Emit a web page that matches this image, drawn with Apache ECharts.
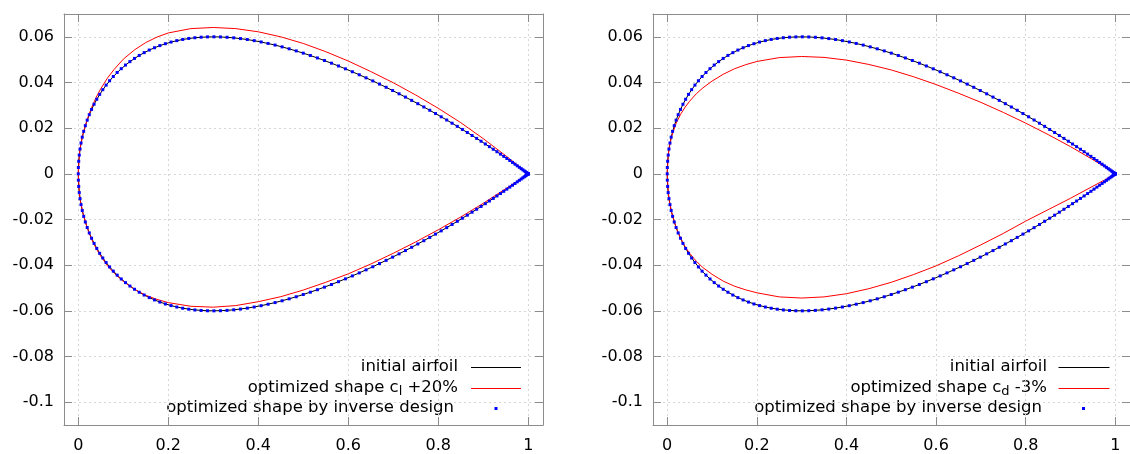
<!DOCTYPE html>
<html>
<head>
<meta charset="utf-8">
<script src="https://cdn.jsdelivr.net/npm/echarts/dist/echarts.min.js"></script>
<style>
html,body{margin:0;padding:0;background:#fff;}
#chart{width:1130px;height:454px;}
</style>
</head>
<body>
<div id="chart"></div>
<script>
// ---- tick labels ----
const xTicks = [0, 0.2, 0.4, 0.6, 0.8, 1];
const xTickLabels = ['0', '0.2', '0.4', '0.6', '0.8', '1'];
const yTicks = [-0.1, -0.08, -0.06, -0.04, -0.02, 0, 0.02, 0.04, 0.06];
const yTickLabels = ['-0.1', '-0.08', '-0.06', '-0.04', '-0.02', '0', '0.02', '0.04', '0.06'];

// ---- legend texts ----
const legendLeft = ['initial airfoil', 'optimized shape c{sub|l} +20%', 'optimized shape by inverse design'];
const legendRight = ['initial airfoil', 'optimized shape c{sub|d} -3%', 'optimized shape by inverse design'];

// ---- initial airfoil (line) ----
const initX = [0, 0.00099, 0.00394, 0.00886, 0.01571, 0.02447, 0.03511, 0.04759, 0.06185, 0.07784, 0.09549, 0.11474, 0.13552, 0.15773, 0.18129, 0.20611, 0.23209, 0.25912, 0.28711, 0.31594, 0.34549, 0.37566, 0.40631, 0.43733, 0.46861, 0.5, 0.5314, 0.56267, 0.59369, 0.62435, 0.65451, 0.68406, 0.71289, 0.74088, 0.76791, 0.79389, 0.81871, 0.84227, 0.86448, 0.88526, 0.90451, 0.92216, 0.93815, 0.95241, 0.96489, 0.97553, 0.98429, 0.99114, 0.99606, 0.99901, 1];
const initUpper = [0, 0.00552, 0.01088, 0.01608, 0.02109, 0.02589, 0.03047, 0.0348, 0.03886, 0.04262, 0.04605, 0.04914, 0.05186, 0.05421, 0.05616, 0.05771, 0.05886, 0.05961, 0.05997, 0.05995, 0.05956, 0.05882, 0.05775, 0.05639, 0.05475, 0.05286, 0.05075, 0.04846, 0.04599, 0.04339, 0.04069, 0.0379, 0.03505, 0.03217, 0.02928, 0.0264, 0.02357, 0.0208, 0.01811, 0.01552, 0.01307, 0.01077, 0.00864, 0.00671, 0.00499, 0.0035, 0.00226, 0.00128, 0.00057, 0.00014, 0];
const initLower = [0, -0.00552, -0.01088, -0.01608, -0.02109, -0.02589, -0.03047, -0.0348, -0.03886, -0.04262, -0.04605, -0.04914, -0.05186, -0.05421, -0.05616, -0.05771, -0.05886, -0.05961, -0.05997, -0.05995, -0.05956, -0.05882, -0.05775, -0.05639, -0.05475, -0.05286, -0.05075, -0.04846, -0.04599, -0.04339, -0.04069, -0.0379, -0.03505, -0.03217, -0.02928, -0.0264, -0.02357, -0.0208, -0.01811, -0.01552, -0.01307, -0.01077, -0.00864, -0.00671, -0.00499, -0.0035, -0.00226, -0.00128, -0.00057, -0.00014, 0];

// ---- optimized shape by inverse design (points) ----
const invX = [0, 0.00025, 0.00099, 0.00222, 0.00394, 0.00616, 0.00886, 0.01204, 0.01571, 0.01985, 0.02447, 0.02956, 0.03511, 0.04112, 0.04759, 0.0545, 0.06185, 0.06963, 0.07784, 0.08646, 0.09549, 0.10492, 0.11474, 0.12494, 0.13552, 0.14645, 0.15773, 0.16934, 0.18129, 0.19355, 0.20611, 0.21896, 0.23209, 0.24548, 0.25912, 0.27301, 0.28711, 0.30143, 0.31594, 0.33063, 0.34549, 0.3605, 0.37566, 0.39093, 0.40631, 0.42178, 0.43733, 0.45295, 0.46861, 0.4843, 0.5, 0.51571, 0.5314, 0.54705, 0.56267, 0.57822, 0.59369, 0.60907, 0.62435, 0.6395, 0.65451, 0.66937, 0.68406, 0.69857, 0.71289, 0.727, 0.74088, 0.75452, 0.76791, 0.78104, 0.79389, 0.80645, 0.81871, 0.83066, 0.84227, 0.85355, 0.86448, 0.87506, 0.88526, 0.89508, 0.90451, 0.91354, 0.92216, 0.93037, 0.93815, 0.9455, 0.95241, 0.95888, 0.96489, 0.97044, 0.97553, 0.98015, 0.98429, 0.98796, 0.99114, 0.99384, 0.99606, 0.99778, 0.99901, 0.99975, 1];
const invUpper = [0, 0.00278, 0.00552, 0.00822, 0.01088, 0.0135, 0.01608, 0.01861, 0.02109, 0.02352, 0.02589, 0.02821, 0.03047, 0.03267, 0.0348, 0.03687, 0.03886, 0.04078, 0.04262, 0.04437, 0.04605, 0.04764, 0.04914, 0.05055, 0.05186, 0.05308, 0.05421, 0.05523, 0.05616, 0.05699, 0.05771, 0.05834, 0.05886, 0.05929, 0.05961, 0.05984, 0.05997, 0.06001, 0.05995, 0.0598, 0.05956, 0.05923, 0.05882, 0.05833, 0.05775, 0.05711, 0.05639, 0.0556, 0.05475, 0.05384, 0.05286, 0.05183, 0.05075, 0.04963, 0.04846, 0.04724, 0.04599, 0.04471, 0.04339, 0.04205, 0.04069, 0.0393, 0.0379, 0.03648, 0.03505, 0.03361, 0.03217, 0.03072, 0.02928, 0.02784, 0.0264, 0.02498, 0.02357, 0.02217, 0.0208, 0.01944, 0.01811, 0.0168, 0.01552, 0.01428, 0.01307, 0.0119, 0.01077, 0.00968, 0.00864, 0.00765, 0.00671, 0.00582, 0.00499, 0.00422, 0.0035, 0.00285, 0.00226, 0.00174, 0.00128, 0.00089, 0.00057, 0.00032, 0.00014, 0.00004, 0];
const invLower = [0, -0.00278, -0.00552, -0.00822, -0.01088, -0.0135, -0.01608, -0.01861, -0.02109, -0.02352, -0.02589, -0.02821, -0.03047, -0.03267, -0.0348, -0.03687, -0.03886, -0.04078, -0.04262, -0.04437, -0.04605, -0.04764, -0.04914, -0.05055, -0.05186, -0.05308, -0.05421, -0.05523, -0.05616, -0.05699, -0.05771, -0.05834, -0.05886, -0.05929, -0.05961, -0.05984, -0.05997, -0.06001, -0.05995, -0.0598, -0.05956, -0.05923, -0.05882, -0.05833, -0.05775, -0.05711, -0.05639, -0.0556, -0.05475, -0.05384, -0.05286, -0.05183, -0.05075, -0.04963, -0.04846, -0.04724, -0.04599, -0.04471, -0.04339, -0.04205, -0.04069, -0.0393, -0.0379, -0.03648, -0.03505, -0.03361, -0.03217, -0.03072, -0.02928, -0.02784, -0.0264, -0.02498, -0.02357, -0.02217, -0.0208, -0.01944, -0.01811, -0.0168, -0.01552, -0.01428, -0.01307, -0.0119, -0.01077, -0.00968, -0.00864, -0.00765, -0.00671, -0.00582, -0.00499, -0.00422, -0.0035, -0.00285, -0.00226, -0.00174, -0.00128, -0.00089, -0.00057, -0.00032, -0.00014, -0.00004, 0];

// ---- optimized shapes (red lines) ----
const redX = [0, 0.0025, 0.005, 0.01, 0.02, 0.03, 0.04, 0.05, 0.065, 0.08, 0.1, 0.125, 0.15, 0.175, 0.2, 0.25, 0.3, 0.35, 0.4, 0.45, 0.5, 0.55, 0.6, 0.65, 0.7, 0.75, 0.8, 0.85, 0.9, 0.95, 0.975, 1];
const clUpper = [0, 0.0087, 0.0122, 0.0171, 0.0239, 0.0292, 0.0336, 0.0373, 0.042, 0.0458, 0.0502, 0.0543, 0.0575, 0.0599, 0.0617, 0.0636, 0.0641, 0.0636, 0.0622, 0.06, 0.0571, 0.0535, 0.0494, 0.0448, 0.0399, 0.0345, 0.0287, 0.0224, 0.0154, 0.0079, 0.004, 0];
const clLower = [0, -0.0087, -0.0122, -0.017, -0.0238, -0.0288, -0.0328, -0.0361, -0.0403, -0.0436, -0.0471, -0.0506, -0.0532, -0.055, -0.0564, -0.058, -0.0584, -0.0577, -0.056, -0.0538, -0.0509, -0.0475, -0.0438, -0.0395, -0.0348, -0.0298, -0.0245, -0.0189, -0.0129, -0.0065, -0.0033, 0];
const cdUpper = [0, 0.0087, 0.0121, 0.0165, 0.0222, 0.0261, 0.0292, 0.0318, 0.0351, 0.0377, 0.0406, 0.0436, 0.046, 0.0478, 0.0492, 0.0509, 0.0514, 0.051, 0.0498, 0.0479, 0.0455, 0.0425, 0.0391, 0.0353, 0.0313, 0.0269, 0.0222, 0.0172, 0.0119, 0.0062, 0.0032, 0];
const cdLower = [0, -0.0087, -0.0122, -0.017, -0.0236, -0.0282, -0.0319, -0.0348, -0.0383, -0.0411, -0.044, -0.047, -0.0492, -0.0508, -0.0521, -0.0539, -0.0544, -0.0539, -0.0525, -0.0503, -0.0475, -0.0441, -0.0403, -0.0359, -0.0311, -0.0261, -0.0207, -0.0157, -0.0107, -0.0054, -0.0028, 0];

// ---- build ----
const FONT = '"DejaVu Sans", sans-serif';
const AXC = '#8c8c8c';
const X_MIN = -0.0317, X_MAX = 1.0327;
const Y_MIN = -0.11, Y_MAX = 0.07;

function contour(xs, up, lo) {
  const pts = [];
  for (let i = xs.length - 1; i >= 0; i--) pts.push([xs[i], up[i]]);
  for (let i = 1; i < xs.length; i++) pts.push([xs[i], lo[i]]);
  return pts;
}
function fmt(ticks, labels) {
  return function (v) {
    for (let i = 0; i < ticks.length; i++) if (Math.abs(ticks[i] - v) < 1e-9) return labels[i];
    return '';
  };
}

const panels = [
  { left: 64, upper: clUpper, lower: clLower, name: 'optimized shape cl +20%', legend: legendLeft, textRight: [458, 458, 454], sx1: 471, sx2: 521, dotX: 496 },
  { left: 653, upper: cdUpper, lower: cdLower, name: 'optimized shape cd -3%', legend: legendRight, textRight: [1047, 1047, 1042], sx1: 1058.5, sx2: 1109.5, dotX: 1083.5 }
];
const rowsY = [367, 388, 408];

const grid = [], xAxis = [], yAxis = [], series = [], graphic = [];
panels.forEach((p, g) => {
  grid.push({ left: p.left, top: 14, width: 479, height: 411, containLabel: false });
  const axLine = { show: true, onZero: false, lineStyle: { color: AXC, width: 1 } };
  const xTick = { show: true, inside: true, length: 8, customValues: xTicks, lineStyle: { color: AXC, width: 1 } };
  const yTick = { show: true, inside: true, length: 8, customValues: yTicks, lineStyle: { color: AXC, width: 1 } };
  const split = { show: true, lineStyle: { color: '#d6d6d6', width: 1, type: [2, 3] } };
  xAxis.push({ gridIndex: g, type: 'value', position: 'bottom', min: X_MIN, max: X_MAX, axisLine: axLine, axisTick: xTick,
    axisLabel: { show: true, customValues: xTicks, formatter: fmt(xTicks, xTickLabels), margin: 13, color: '#000', fontSize: 16, fontFamily: FONT },
    splitLine: split });
  xAxis.push({ gridIndex: g, type: 'value', position: 'top', min: X_MIN, max: X_MAX, axisLine: axLine, axisTick: xTick,
    axisLabel: { show: false }, splitLine: { show: false } });
  yAxis.push({ gridIndex: g, type: 'value', position: 'left', min: Y_MIN, max: Y_MAX, axisLine: axLine, axisTick: yTick,
    axisLabel: { show: true, customValues: yTicks, formatter: fmt(yTicks, yTickLabels), margin: 10, color: '#000', fontSize: 16, fontFamily: FONT },
    splitLine: split });
  yAxis.push({ gridIndex: g, type: 'value', position: 'right', min: Y_MIN, max: Y_MAX, axisLine: axLine, axisTick: yTick,
    axisLabel: { show: false }, splitLine: { show: false } });

  series.push({ type: 'line', name: 'initial airfoil', xAxisIndex: 2 * g, yAxisIndex: 2 * g, data: contour(initX, initUpper, initLower),
    symbol: 'none', lineStyle: { color: '#000', width: 1 }, z: 2, silent: true });
  series.push({ type: 'line', name: p.name, xAxisIndex: 2 * g, yAxisIndex: 2 * g, data: contour(redX, p.upper, p.lower),
    symbol: 'none', lineStyle: { color: '#ff0000', width: 1 }, z: 3, silent: true });
  series.push({ type: 'scatter', name: 'optimized shape by inverse design', xAxisIndex: 2 * g, yAxisIndex: 2 * g, data: contour(invX, invUpper, invLower),
    symbol: 'rect', symbolSize: 3, itemStyle: { color: '#0000ff', opacity: 1 }, z: 4, silent: true });

  // legend (drawn as graphic so that keys align like the original)
  p.legend.forEach((t, i) => {
    graphic.push({ type: 'text', x: p.textRight[i], y: rowsY[i], silent: true,
      style: { text: t, font: '16.5px ' + FONT, fontSize: 16.5, fontFamily: FONT, fill: '#000', align: 'right', textAlign: 'right', verticalAlign: 'middle', textVerticalAlign: 'middle', lineHeight: 20,
        rich: { sub: { fontSize: 13, fontFamily: FONT, fill: '#000', lineHeight: 14, verticalAlign: 'bottom' } } } });
  });
  graphic.push({ type: 'line', silent: true, shape: { x1: p.sx1, y1: rowsY[0] + 0.5, x2: p.sx2, y2: rowsY[0] + 0.5 }, style: { stroke: '#000', lineWidth: 1 } });
  graphic.push({ type: 'line', silent: true, shape: { x1: p.sx1, y1: rowsY[1] + 0.5, x2: p.sx2, y2: rowsY[1] + 0.5 }, style: { stroke: '#ff0000', lineWidth: 1 } });
  graphic.push({ type: 'rect', silent: true, shape: { x: p.dotX - 1.5, y: rowsY[2] - 1, width: 3, height: 3 }, style: { fill: '#0000ff' } });
});

const chart = echarts.init(document.getElementById('chart'), null, { renderer: 'canvas', devicePixelRatio: 1 });
chart.setOption({
  animation: false,
  backgroundColor: '#fff',
  grid, xAxis, yAxis, series, graphic
});
</script>
</body>
</html>
